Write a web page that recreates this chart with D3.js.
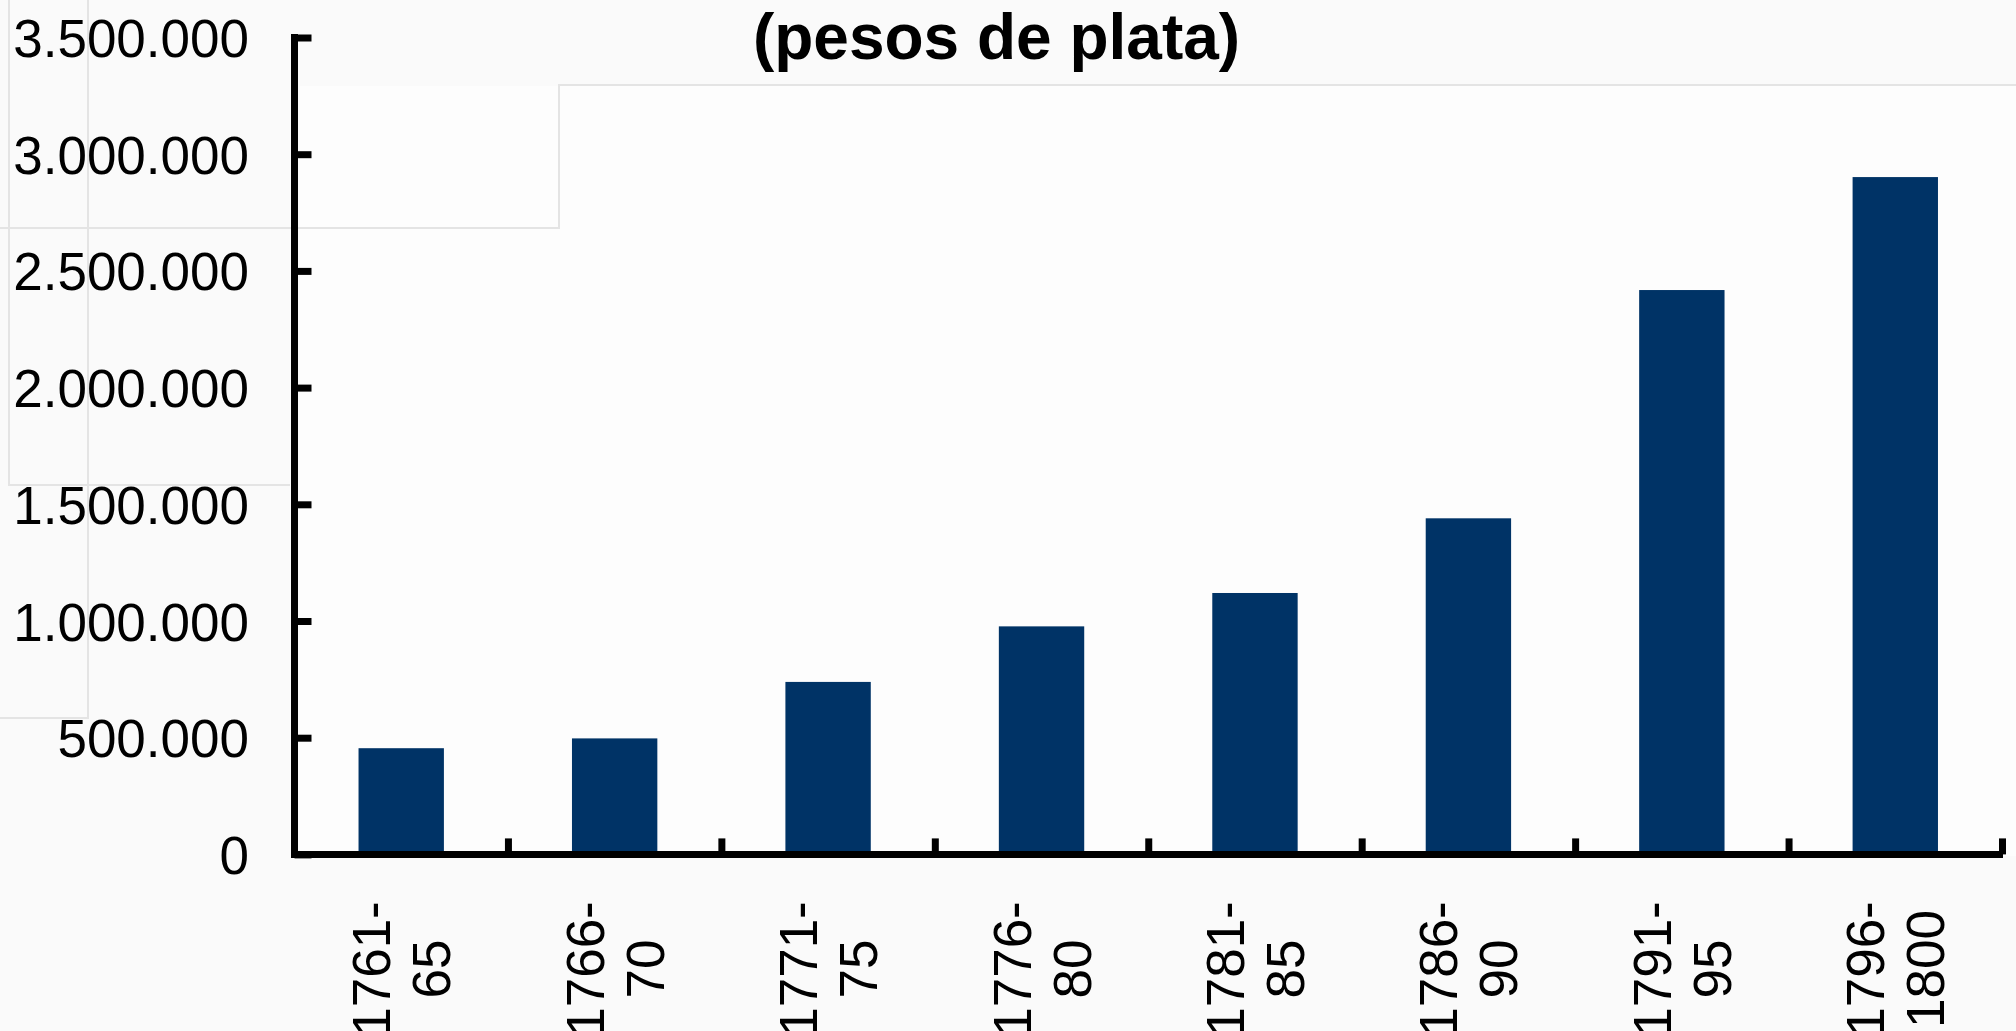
<!DOCTYPE html>
<html>
<head>
<meta charset="utf-8">
<script src="https://cdn.jsdelivr.net/npm/d3@7"></script>
<style>
  html, body { margin: 0; padding: 0; background: #fafafa; overflow: hidden; }
  svg { display: block; font-family: "Liberation Sans", Arial, Helvetica, sans-serif; }
</style>
</head>
<body>
<svg id="chart" width="2016" height="1031"></svg>
<script>
// ---- data ----
const categories = ["1761-65", "1766-70", "1771-75", "1776-80", "1781-85", "1786-90", "1791-95", "1796-1800"];
const values = [455000, 497000, 739000, 977000, 1120000, 1440000, 2418000, 2902000];
const yTicks = [0, 500000, 1000000, 1500000, 2000000, 2500000, 3000000, 3500000];
const titleText = "(pesos de plata)";

// ---- layout ----
const W = 2016, H = 1031;
const plot = { left: 294.5, right: 2002, top: 37.5, bottom: 854.4 };

const svg = d3.select("#chart");

// background artefacts (faint panel edges from the source slide)
svg.append("rect").attr("x", 0).attr("y", 0).attr("width", W).attr("height", H).attr("fill", "#fafafa");
svg.append("rect").attr("x", 300).attr("y", 86).attr("width", W - 300).attr("height", 770).attr("fill", "#fdfdfd");
const faint = svg.append("g").attr("fill", "none").attr("stroke", "#e4e4e4").attr("stroke-width", 2);
faint.append("path").attr("d", "M0,228 H559 V85 H2016");
faint.append("path").attr("d", "M9,0 V485 H290");
faint.append("path").attr("d", "M88,0 V718 H0");

// ---- scales ----
const x = d3.scaleBand().domain(categories).range([plot.left, plot.right]).paddingInner(0.6).paddingOuter(0.3);
const xEdges = d3.scaleLinear().domain([0, categories.length]).range([plot.left, plot.right]);
const y = d3.scaleLinear().domain([0, 3500000]).range([plot.bottom, plot.top]);

const locale = d3.formatLocale({ decimal: ",", thousands: ".", grouping: [3], currency: ["$", ""] });
const fmt = locale.format(",d");

// ---- bars ----
svg.append("g").selectAll("rect").data(values).join("rect")
  .attr("x", (d, i) => x(categories[i]))
  .attr("width", x.bandwidth())
  .attr("y", d => y(d))
  .attr("height", d => y(0) - y(d))
  .attr("fill", "#003366");

// ---- y axis ----
const yAxis = svg.append("g").attr("transform", `translate(${plot.left},0)`)
  .call(d3.axisLeft(y).tickValues(yTicks).tickFormat(fmt).tickSizeInner(-17).tickSizeOuter(0).tickPadding(45.5));
yAxis.select(".domain").attr("stroke", "#000").attr("stroke-width", 7)
  .attr("d", `M0,${plot.top - 3.5}V${plot.bottom + 3.5}`);
yAxis.selectAll(".tick line").attr("stroke", "#000").attr("stroke-width", 7);
yAxis.selectAll(".tick text").attr("fill", "#000").attr("font-size", 53)
  .attr("font-family", "\"Liberation Sans\", Arial, Helvetica, sans-serif").attr("dy", "0.36em");

// ---- x axis ----
const xAxis = svg.append("g").attr("transform", `translate(0,${plot.bottom})`)
  .call(d3.axisBottom(xEdges).tickValues(d3.range(1, categories.length + 1)).tickFormat("").tickSizeInner(-16).tickSizeOuter(0));
xAxis.select(".domain").attr("stroke", "#000").attr("stroke-width", 7)
  .attr("d", `M${plot.left - 3.5},0H${plot.right + 1}`);
xAxis.selectAll(".tick line").attr("stroke", "#000").attr("stroke-width", 7);

// ---- category labels (rotated, two lines) ----
const labels = svg.append("g").selectAll("g").data(categories).join("g")
  .attr("transform", d => `translate(${x(d) + x.bandwidth() / 2},969) rotate(-90)`);
labels.append("text")
  .attr("text-anchor", "middle").attr("font-size", 53).attr("fill", "#000")
  .each(function (d) {
    const parts = d.split("-");
    const t = d3.select(this);
    t.append("tspan").attr("x", 0).attr("y", -11).text(parts[0] + "-");
    t.append("tspan").attr("x", 0).attr("y", 49).text(parts[1]);
  });

// ---- title (second line visible) ----
svg.append("text").attr("x", 996.5).attr("y", 59).attr("text-anchor", "middle")
  .attr("font-size", 64).attr("font-weight", "bold").attr("fill", "#000").text(titleText);
</script>
</body>
</html>
